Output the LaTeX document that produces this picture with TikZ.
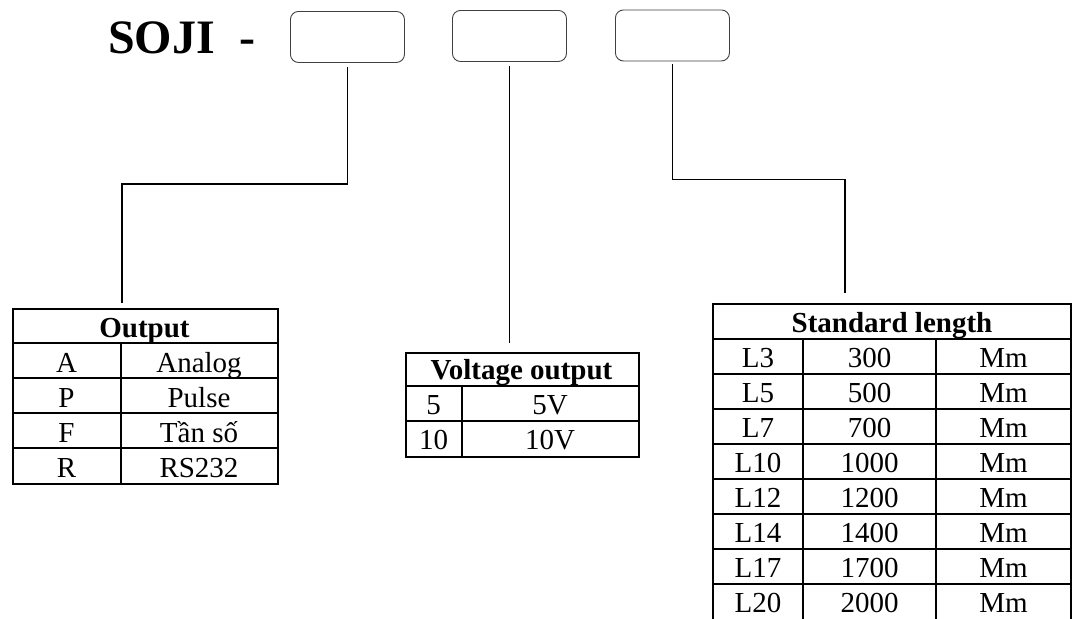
\documentclass[tikz,border=0pt]{standalone}
\usepackage{fontspec}
\setmainfont{Liberation Serif}
\begin{document}
\begin{tikzpicture}[x=1pt,y=-1pt,
  codebox/.style={draw=black!75, line width=0.9pt, rounded corners=8pt, minimum width=114pt, minimum height=51pt, inner sep=0pt, anchor=north west},
  frame/.style={draw, line width=1.6pt, inner sep=0pt, anchor=north west},
  grid/.style={line width=1.6pt},
  link/.style={line width=1.2pt},
  cell/.style={font=\fontsize{29}{34}\selectfont, anchor=base, inner sep=0pt},
  head/.style={font=\fontsize{29}{34}\selectfont\bfseries, anchor=base, inner sep=0pt}]
\useasboundingbox (0,0) rectangle (1072,619);

% title
\node[font=\fontsize{48}{56}\selectfont\bfseries, anchor=base west, inner sep=0pt] (title) at (108,53) {SOJI\hspace{25pt}-};

% code boxes
\node[codebox] (b1) at (290,11) {};
\node[codebox] (b2) at (452,10) {};
\node[codebox] (b3) at (615,9.5) {};

% ---------- Output table ----------
\node[frame, minimum width=265pt, minimum height=175pt] (tout) at (12,308) {};
\foreach \y in {343,378,413,448} \draw[grid] (12,\y) -- (277,\y);
\draw[grid] (121,343) -- (121,483);
\node[head] (oh) at (144.5,337) {Output};
\node[cell] (oa1) at (66.5,372) {A};   \node[cell] (oa2) at (199,372) {Analog};
\node[cell] (op1) at (66.5,407) {P};   \node[cell] (op2) at (199,407) {Pulse};
\node[cell] (of1) at (66.5,442) {F};   \node[cell] (of2) at (199,442) {Tần số};
\node[cell] (or1) at (66.5,477) {R};   \node[cell] (or2) at (199,477) {RS232};

% ---------- Voltage table ----------
\node[frame, minimum width=233pt, minimum height=104pt] (tvol) at (405,352) {};
\foreach \y in {386,421} \draw[grid] (405,\y) -- (638,\y);
\draw[grid] (462,386) -- (462,456);
\node[head] (vh) at (521.5,379) {Voltage output};
\node[cell] (v51) at (433.5,414) {5};   \node[cell] (v52) at (550,414) {5V};
\node[cell] (v101) at (433.5,449) {10}; \node[cell] (v102) at (550,449) {10V};

% ---------- Standard length table ----------
\coordinate (stl) at (713,304);
\draw[grid] (713,619) -- (713,304) -- (1071,304) -- (1071,619);
\foreach \y in {339,374,409,444,479,514,549,584} \draw[grid] (713,\y) -- (1071,\y);
\draw[grid] (803,339) -- (803,619);
\draw[grid] (936,339) -- (936,619);
\node[head] (sh) at (892,332) {Standard length};
\foreach \c/\v/\r [count=\i] in {L3/300/Mm, L5/500/Mm, L7/700/Mm, L10/1000/Mm, L12/1200/Mm, L14/1400/Mm, L17/1700/Mm, L20/2000/Mm}{
  \node[cell] (sa\i) at (758,332+35*\i) {\c};
  \node[cell] (sb\i) at (869.5,332+35*\i) {\v};
  \node[cell] (sc\i) at (1003.5,332+35*\i) {\r};
}

% ---------- connectors ----------
\coordinate (o1) at (122,303);
\coordinate (o2) at (509,343);
\coordinate (o3) at (845,293);
\draw[link] ([yshift=-4pt]b1.south) -- ++(0,117) -| (o1);
\draw[link] ([yshift=-4pt]b2.south) -- (b2.south |- o2);
\draw[link] ([yshift=-3pt]b3.south) -- ++(0,115) -| (o3);
\end{tikzpicture}
\end{document}
